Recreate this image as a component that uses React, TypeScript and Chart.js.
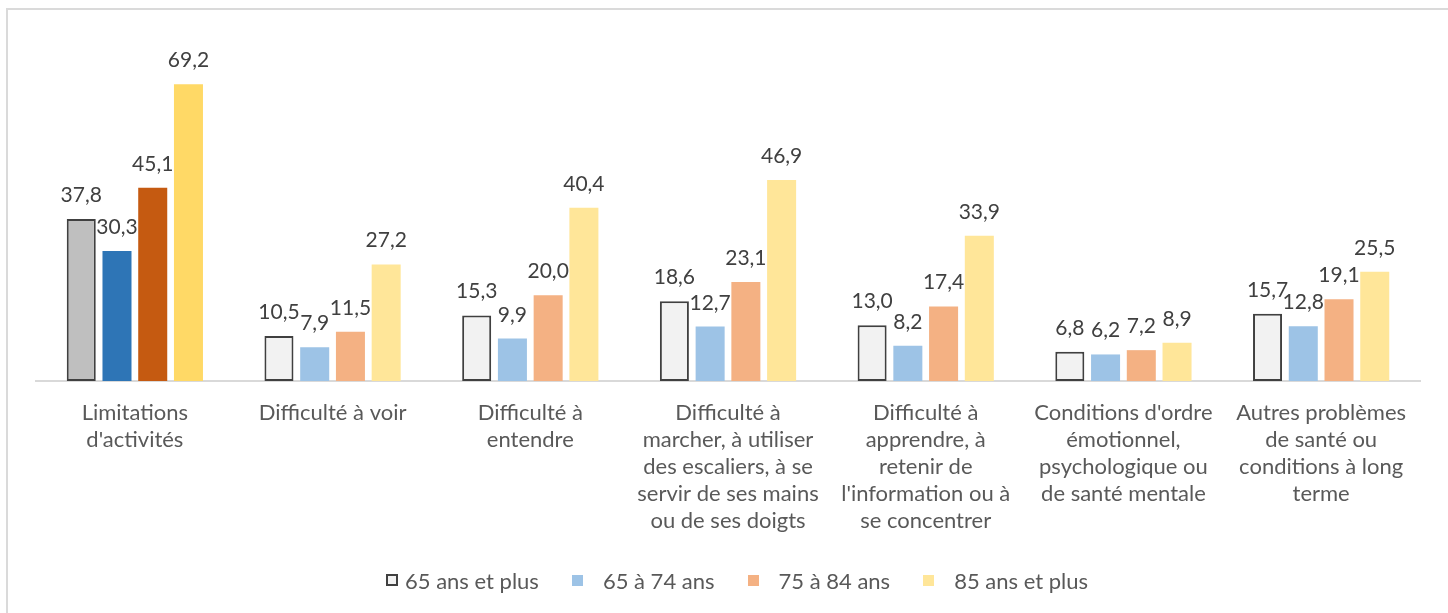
import React, { useEffect, useRef } from "react";
import { Chart, registerables } from "chart.js";

Chart.register(...registerables);

const categories: string[][] = [
  ["Limitations", "d'activités"],
  ["Difficulté à voir"],
  ["Difficulté à", "entendre"],
  ["Difficulté à", "marcher, à utiliser", "des escaliers, à se", "servir de ses mains", "ou de ses doigts"],
  ["Difficulté à", "apprendre, à", "retenir de", "l'information ou à", "se concentrer"],
  ["Conditions d'ordre", "émotionnel,", "psychologique ou", "de santé mentale"],
  ["Autres problèmes", "de santé ou", "conditions à long", "terme"],
];

const seriesNames = ["65 ans et plus", "65 à 74 ans", "75 à 84 ans", "85 ans et plus"];

const values65plus = [37.8, 10.5, 15.3, 18.6, 13.0, 6.8, 15.7];
const values65to74 = [30.3, 7.9, 9.9, 12.7, 8.2, 6.2, 12.8];
const values75to84 = [45.1, 11.5, 20.0, 23.1, 17.4, 7.2, 19.1];
const values85plus = [69.2, 27.2, 40.4, 46.9, 33.9, 8.9, 25.5];

const darkColors = ["#BFBFBF", "#2E75B6", "#C55A11", "#FFD966"];
const lightColors = ["#F2F2F2", "#9DC3E6", "#F4B183", "#FFE699"];

const FONT = "Lato, 'Open Sans', sans-serif";

const labelPlugin = {
  id: "valueLabels",
  afterDatasetsDraw(chart: any) {
    const ctx = chart.ctx;
    ctx.save();
    ctx.font = `21px ${FONT}`;
    ctx.fillStyle = "#404040";
    ctx.textAlign = "center";
    ctx.textBaseline = "alphabetic";
    chart.data.datasets.forEach((ds: any, di: number) => {
      const meta = chart.getDatasetMeta(di);
      meta.data.forEach((bar: any, i: number) => {
        const v = ds.data[i] as number;
        ctx.fillText(v.toFixed(1).replace(".", ","), bar.x, bar.y - 17);
      });
    });
    ctx.restore();
  },
};

export default function App() {
  const ref = useRef<HTMLCanvasElement>(null);

  useEffect(() => {
    if (!ref.current) return;
    const all = [values65plus, values65to74, values75to84, values85plus];
    const chart = new Chart(ref.current, {
      type: "bar",
      data: {
        labels: categories,
        datasets: all.map((vals, si) => ({
          label: seriesNames[si],
          data: vals,
          backgroundColor: vals.map((_, i) => (i === 0 ? darkColors[si] : lightColors[si])),
          borderColor: si === 0 ? "#404040" : "rgba(0,0,0,0)",
          borderWidth: si === 0 ? 2 : 0,
          borderSkipped: false,
          categoryPercentage: 0.723,
          barPercentage: 0.812,
        })),
      },
      options: {
        responsive: false,
        animation: false,
        maintainAspectRatio: false,
        layout: { padding: { left: 36, right: 28, top: 38, bottom: 61 } },
        plugins: {
          legend: { display: false },
          tooltip: { enabled: false },
        },
        scales: {
          x: {
            grid: { display: false, drawTicks: false },
            border: { display: true, color: "#D9D9D9", width: 2 },
            ticks: {
              color: "#595959",
              font: { family: FONT, size: 22, lineHeight: 1.227 },
              padding: 18,
              maxRotation: 0,
              autoSkip: false,
            },
          },
          y: {
            display: false,
            min: 0,
            max: 80,
          },
        },
      },
      plugins: [labelPlugin],
    });
    return () => chart.destroy();
  }, []);

  const legendText: React.CSSProperties = {
    fontFamily: FONT,
    fontSize: 22,
    color: "#595959",
    whiteSpace: "nowrap",
  };

  return (
    <div style={{ position: "absolute", left: 0, top: 0, width: 1448, height: 613, overflow: "hidden", background: "#fff" }}>
      <div
        style={{
          position: "absolute",
          left: 6,
          top: 8,
          width: 1460,
          height: 640,
          border: "2px solid #DADADA",
          boxSizing: "border-box",
        }}
      />
      <canvas ref={ref} width={1448} height={613} style={{ position: "absolute", left: 0, top: 0 }} />
      <div
        style={{
          position: "absolute",
          left: 386,
          top: 566,
          height: 28,
          display: "flex",
          alignItems: "center",
        }}
      >
        <span style={{ width: 12, height: 12, boxSizing: "border-box", border: "2px solid #404040", background: lightColors[0], display: "inline-block" }} />
        <span style={{ ...legendText, marginLeft: 7 }}>{seriesNames[0]}</span>
        {[1, 2, 3].map((si) => (
          <React.Fragment key={si}>
            <span style={{ width: 11, height: 11, background: lightColors[si], display: "inline-block", marginLeft: 33 }} />
            <span style={{ ...legendText, marginLeft: 20 }}>{seriesNames[si]}</span>
          </React.Fragment>
        ))}
      </div>
    </div>
  );
}
